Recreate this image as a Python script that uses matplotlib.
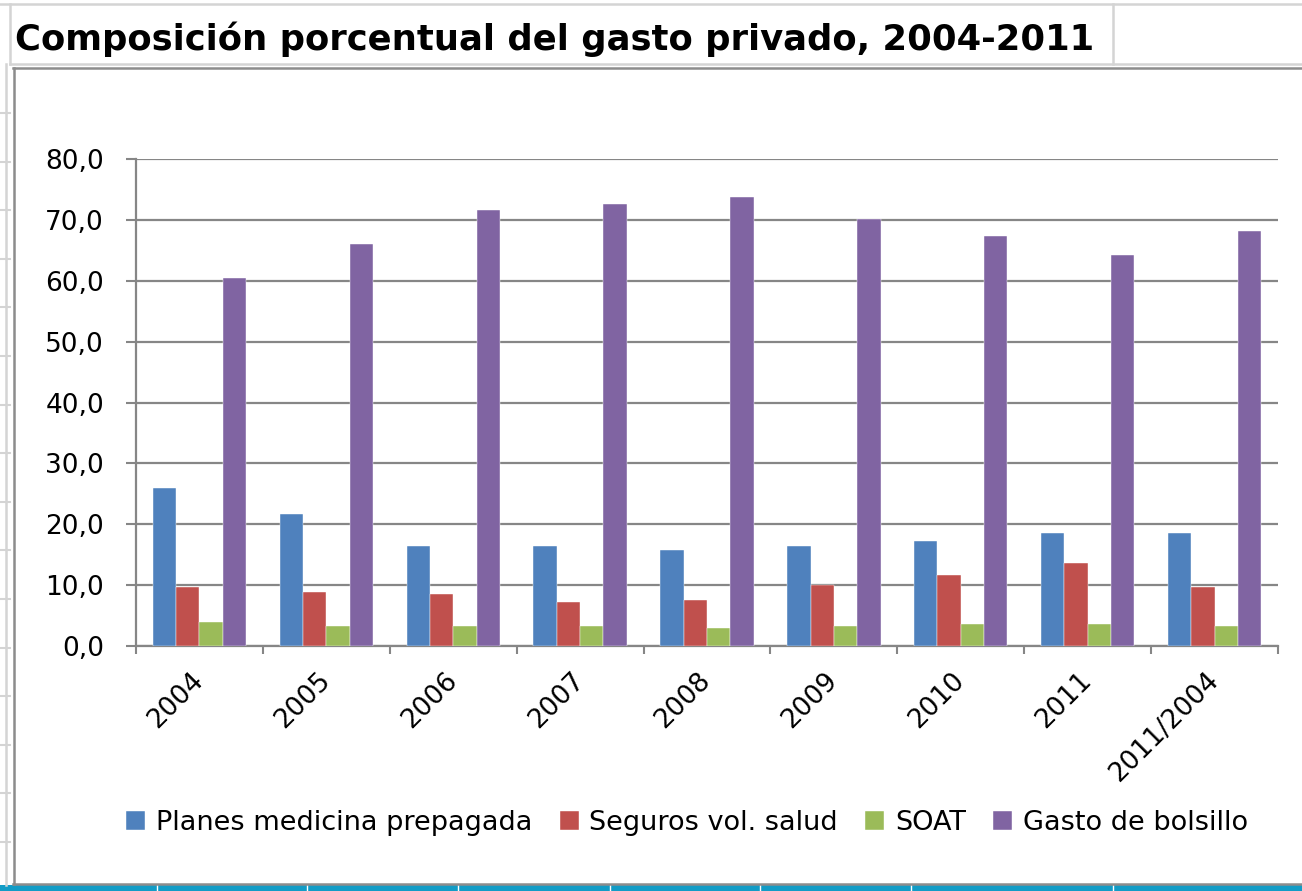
"""Composición porcentual del gasto privado, 2004-2011 (bar chart in a spreadsheet frame)."""

import matplotlib
matplotlib.use("Agg")
import matplotlib.pyplot as plt
import numpy as np
from matplotlib.lines import Line2D
from matplotlib.patches import Rectangle

W, H = 1302, 891

categories = ["2004", "2005", "2006", "2007", "2008", "2009", "2010", "2011", "2011/2004"]
planes = [26.0, 21.7, 16.4, 16.4, 15.7, 16.4, 17.3, 18.5, 18.5]
seguros = [9.7, 8.9, 8.5, 7.3, 7.6, 10.1, 11.7, 13.6, 9.7]
soat = [4.0, 3.3, 3.3, 3.3, 2.9, 3.3, 3.6, 3.6, 3.3]
bolsillo = [60.5, 66.1, 71.7, 72.6, 73.8, 70.2, 67.4, 64.2, 68.2]

series_names = ["Planes medicina prepagada", "Seguros vol. salud", "SOAT", "Gasto de bolsillo"]
colors = ["#4F81BD", "#C0504D", "#9BBB59", "#8064A2"]
yticks = [0, 10, 20, 30, 40, 50, 60, 70, 80]

GRID = "#868686"
SHEET = "#d4d4d4"


def fx(px):
    return px / W


def fy(py):
    return 1 - py / H


def hline(fig, x0, x1, y, color, lw):
    fig.add_artist(Line2D([fx(x0), fx(x1)], [fy(y), fy(y)], color=color, lw=lw,
                          transform=fig.transFigure))


def vline(fig, x, y0, y1, color, lw):
    fig.add_artist(Line2D([fx(x), fx(x)], [fy(y0), fy(y1)], color=color, lw=lw,
                          transform=fig.transFigure))


fig = plt.figure(figsize=(W / 100, H / 100), dpi=100)
fig.patch.set_facecolor("white")

# spreadsheet frame
hline(fig, 0, W, 4, SHEET, 1.8)
hline(fig, 10, W, 64, SHEET, 1.8)
vline(fig, 1113, 4, 64, SHEET, 1.8)
vline(fig, 10, 4, 64, SHEET, 1.8)
vline(fig, 6, 64, 885, SHEET, 1.8)
for yy in np.arange(113, 880, 48.6):
    hline(fig, 0, 10, yy, SHEET, 1.5)
fig.add_artist(Rectangle((0, 0), 1, fy(885), transform=fig.transFigure,
                         facecolor="#129cc6", edgecolor="none", zorder=0))
for xx in [157, 307, 458, 610, 760, 911, 1113]:
    vline(fig, xx, 885, 891, "white", 1.0)
# chart box
hline(fig, 13, W, 68, "#8c8c8c", 1.8)
vline(fig, 14, 68, 884, "#8c8c8c", 1.8)
hline(fig, 13, W, 884, "#8c8c8c", 1.8)

fig.text(fx(15), fy(39), "Composición porcentual del gasto privado, 2004-2011",
         fontsize=25.5, fontweight="bold", ha="left", va="center", color="black")

ax = fig.add_axes([fx(136), fy(646), fx(1278) - fx(136), fy(159.3) - fy(646)])
x = np.arange(len(categories))
bw = 0.184
for i, (vals, name, col) in enumerate(zip([planes, seguros, soat, bolsillo], series_names, colors)):
    ax.bar(x + (i - 1.5) * bw, vals, bw, color=col, label=name,
           edgecolor="white", linewidth=0.3, zorder=3)

ax.set_xlim(-0.5, len(categories) - 0.5)
ax.set_ylim(0, 80)
ax.set_yticks(yticks)
ax.set_yticklabels([f"{v:.1f}".replace(".", ",") for v in yticks], fontsize=19)
ax.yaxis.grid(True, color=GRID, lw=1.6, zorder=0)
ax.tick_params(axis="y", length=7, width=1.5, color=GRID, pad=16)

ax.set_xticks(np.arange(len(categories) + 1) - 0.5)
ax.set_xticklabels([])
ax.tick_params(axis="x", length=6, width=1.5, color=GRID)
ax.set_xticks(x, minor=True)
ax.set_xticklabels(categories, minor=True, rotation=45, ha="right", va="center",
                   rotation_mode="anchor", fontsize=19)
ax.tick_params(axis="x", which="minor", length=0, pad=22)

for side in ["top", "right"]:
    ax.spines[side].set_visible(False)
for side in ["left", "bottom"]:
    ax.spines[side].set_color(GRID)
    ax.spines[side].set_linewidth(1.6)

handles, labels = ax.get_legend_handles_labels()
fig.legend(handles, labels, loc="center", bbox_to_anchor=(fx(687), fy(823)), ncol=4,
           frameon=False, fontsize=19.5, handlelength=0.7, handleheight=0.7,
           handletextpad=0.4, columnspacing=1.0)

fig.savefig("out.png", dpi=100)
